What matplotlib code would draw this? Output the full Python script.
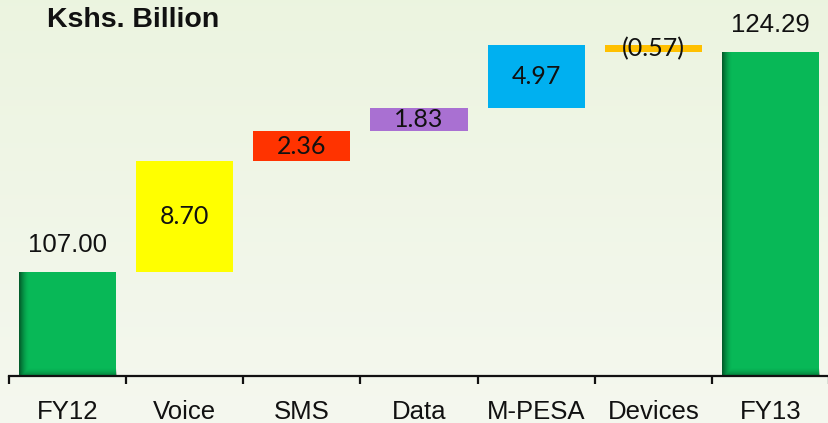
import numpy as np
import matplotlib
matplotlib.use("Agg")
import matplotlib.pyplot as plt
from matplotlib.patches import Rectangle

# Revenue bridge FY12 -> FY13 (Kshs. Billion)
categories = ["FY12", "Voice", "SMS", "Data", "M-PESA", "Devices", "FY13"]
start_total = 107.00
changes = [8.70, 2.36, 1.83, 4.97, -0.57]
end_total = 124.29
change_labels = ["8.70", "2.36", "1.83", "4.97", "(0.57)"]
total_labels = ["107.00", "124.29"]
change_colors = ["#FFFF00", "#FF3300", "#A970D2", "#00B0F0", "#FFC000"]
total_color = "#08B857"

W, H, DPI = 829, 423, 100
fig = plt.figure(figsize=(W / DPI, H / DPI), dpi=DPI)

# soft pale-green backdrop
bg = fig.add_axes([0, 0, 1, 1], zorder=-5)
grad = np.linspace(0, 1, 256)[:, None]
top_c = np.array([0.925, 0.957, 0.878])
bot_c = np.array([0.960, 0.972, 0.937])
img = top_c[None, None, :] * (1 - grad[:, :, None]) + bot_c[None, None, :] * grad[:, :, None]
bg.imshow(np.repeat(img, 4, axis=1), aspect="auto", extent=(0, 1, 0, 1))
bg.set_axis_off()

ax = fig.add_axes([9 / W, 47 / H, (W - 9) / W, 376 / H])
ax.set_facecolor("none")

x = np.arange(len(categories))
bar_w = 0.83
XLIM = (-0.5, -0.5 + (W - 9) / 118)
YLIM = (98.82, 128.38)

# totals
tot_bars = ax.bar([x[0], x[-1]], [start_total, end_total], width=bar_w,
                  color=total_color, zorder=2)

# floating change boxes
cum = start_total
chg_bars = []
for i, (d, col) in enumerate(zip(changes, change_colors)):
    b = ax.bar(x[i + 1], d, bottom=cum, width=bar_w, color=col, zorder=2)[0]
    chg_bars.append(b)
    cum += d

ax.set_xlim(*XLIM)
ax.set_ylim(*YLIM)

# darker left and bottom edges on the visible part of the total bars
fig.canvas.draw()
for b in tot_bars:
    x0, w = b.get_x(), b.get_width()
    y0 = max(b.get_y(), YLIM[0])
    y1 = b.get_y() + b.get_height()
    (px0, py0), (px1, py1) = ax.transData.transform([(x0, y0), (x0 + w, y1)])
    pw, ph = px1 - px0, py1 - py0
    nx, ny = 200, 300
    xp = np.linspace(0, pw, nx)[None, :]
    yp = np.linspace(0, ph, ny)[:, None]
    left = 0.75 * np.clip(1 - xp / 10.0, 0, 1) ** 1.6
    bottom = 0.45 * np.clip(1 - yp / 8.0, 0, 1) ** 1.6
    alpha = np.maximum(left + 0 * yp, bottom + 0 * xp)
    ov = np.zeros((ny, nx, 4))
    ov[..., 1] = 0.22
    ov[..., 2] = 0.10
    ov[..., 3] = alpha
    im = ax.imshow(ov, origin="lower", extent=(x0, x0 + w, y0, y1),
                   aspect="auto", zorder=3, interpolation="bilinear")
    clip = Rectangle((x0, y0), w, y1 - y0, transform=ax.transData)
    im.set_clip_path(clip)

ax.set_xlim(*XLIM)
ax.set_ylim(*YLIM)

label_font = "Liberation Sans"
inner_font = "Lato"

for b, txt in zip(tot_bars, total_labels):
    ax.annotate(txt, (b.get_x() + b.get_width() / 2, b.get_y() + b.get_height()),
                xytext=(0, 14.5), textcoords="offset points", ha="center",
                va="baseline", fontsize=18.5, family=label_font, color="#111111")

for b, txt in zip(chg_bars, change_labels):
    ax.text(b.get_x() + b.get_width() / 2, b.get_y() + b.get_height() / 2, txt,
            ha="center", va="center", fontsize=18, family=inner_font,
            color="#111111", zorder=4)

# axis styling
for s in ["left", "right", "top"]:
    ax.spines[s].set_visible(False)
ax.spines["bottom"].set_linewidth(1.6)
ax.spines["bottom"].set_color("#111111")
ax.spines["bottom"].set_zorder(5)
ax.set_yticks([])
ax.set_xticks(np.arange(len(categories) + 1) - 0.5)
ax.set_xticklabels([])
ax.tick_params(axis="x", which="major", length=6, width=1.6, color="#111111")
ax.set_xticks(x, minor=True)
ax.set_xticklabels(categories, minor=True, fontsize=18.5, family=label_font,
                   color="#111111")
ax.tick_params(axis="x", which="minor", length=0, pad=17)

fig.text(47 / W, 1 - 27 / H, "Kshs. Billion", ha="left", va="baseline",
         fontsize=20.5, fontweight="bold", family=label_font, color="#111111")

fig.savefig("out.png", dpi=DPI, facecolor=fig.get_facecolor())
